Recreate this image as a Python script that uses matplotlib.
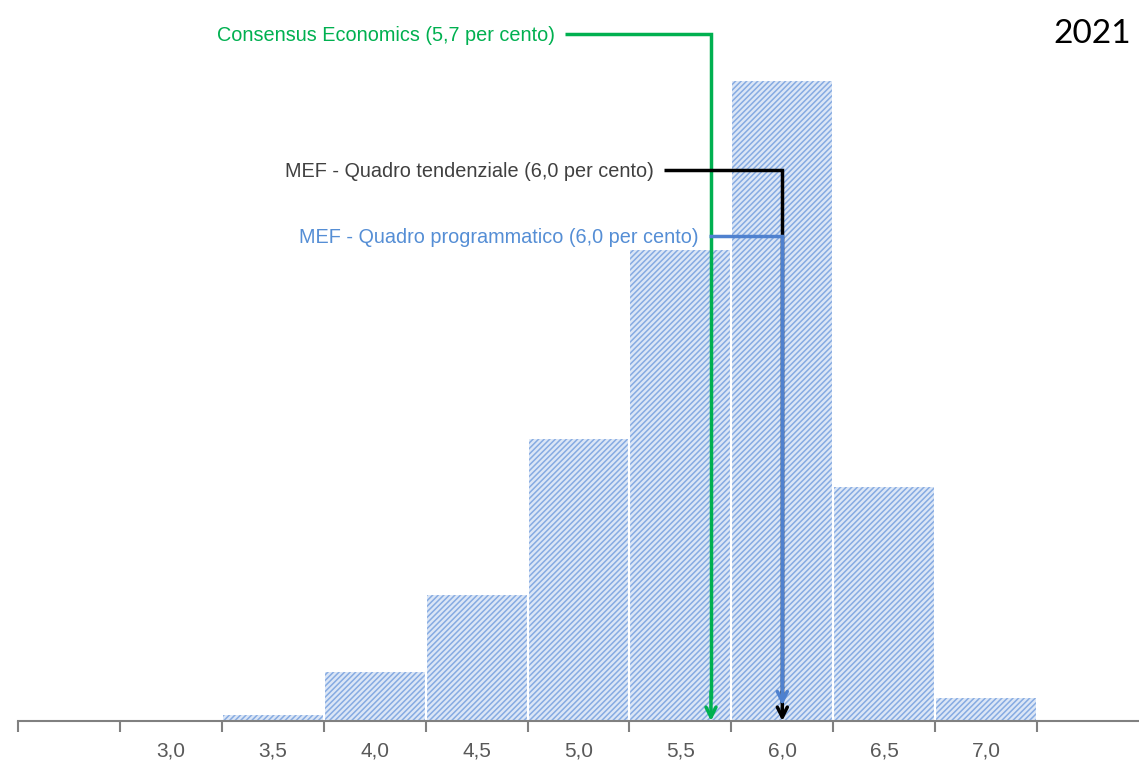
import matplotlib
matplotlib.use("Agg")
import matplotlib.pyplot as plt
import numpy as np

# --- dati ---
categorie = ["", "3,0", "3,5", "4,0", "4,5", "5,0", "5,5", "6,0", "6,5", "7,0", ""]
frequenze = [0, 0, 0.4, 2.7, 6.9, 15.4, 25.7, 34.9, 12.8, 1.3, 0]  # quota di previsori (%)

etichette = [
    "Consensus Economics (5,7 per cento)",
    "MEF - Quadro tendenziale (6,0 per cento)",
    "MEF - Quadro programmatico (6,0 per cento)",
]
posizioni = [5.65, 6.0, 6.0]          # dove cade la freccia sull'asse
colori = ["#00b050", "#000000", "#4f81cf"]
colori_testo = ["#00b050", "#404040", "#558ed5"]
livelli = [37.4, 30.0, 26.4]          # altezza della linea orizzontale
punte = [0.0, 0.0, 0.85]
attacchi = [1.43, 1.16, 0.72]         # distanza fra inizio linea e freccia

plt.rcParams["font.family"] = ["Liberation Sans Narrow", "Liberation Sans", "DejaVu Sans"]
plt.rcParams["hatch.linewidth"] = 1.1

fig = plt.figure(figsize=(11.39, 7.67), dpi=100)
ax = fig.add_axes([18 / 1139, 1 - 721 / 767, 1 - 18 / 1139, 721 / 767])

x = np.arange(len(categorie))
ax.bar(x, frequenze, width=1.0, color="#dbe6f6", edgecolor="#86abe2",
       linewidth=0, hatch="//////")
ax.bar(x, frequenze, width=1.0, fill=False, edgecolor="white", linewidth=1.5)


def val2x(v):
    return (v - 3.0) / 0.5 + 1


# frecce dei riferimenti
for lab, v, c, ct, yl, tip, att in zip(etichette, posizioni, colori, colori_testo,
                                       livelli, punte, attacchi):
    xv = val2x(v)
    start = xv - att
    ax.text(start - 0.1, yl - 0.1, lab, ha="right", va="center", color=ct, fontsize=14.3)
    ax.plot([start, xv, xv], [yl, yl, tip + 1.2], color=c, lw=2.5,
            solid_joinstyle="miter", solid_capstyle="butt", zorder=5)
    ax.annotate("", xy=(xv, tip), xytext=(xv, tip + 1.6),
                arrowprops=dict(arrowstyle="->", color=c, lw=2.5,
                                shrinkA=0, shrinkB=0, mutation_scale=18),
                zorder=6)

ax.set_xlim(-0.5, len(categorie) - 0.5)
ax.set_ylim(0, 721 / 18.38)

ax.set_xticks(np.arange(len(categorie)) - 0.5)
ax.set_xticklabels([])
ax.set_xticks(x, minor=True)
ax.set_xticklabels(categorie, minor=True)
ax.tick_params(axis="x", which="major", length=8, width=1.5, color="#808080", direction="out")
ax.tick_params(axis="x", which="minor", length=0, pad=15, labelsize=15, labelcolor="#595959")
ax.set_yticks([])

for s in ["top", "right", "left"]:
    ax.spines[s].set_visible(False)
ax.spines["bottom"].set_color("#808080")
ax.spines["bottom"].set_linewidth(1.5)

fig.text(1131 / 1139, 1 - 34 / 767, "2021", ha="right", va="center",
         fontsize=24, family="Lato", color="black")

fig.savefig("out.png", dpi=100)
